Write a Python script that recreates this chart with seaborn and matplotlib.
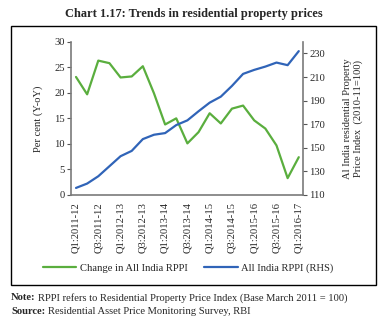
import matplotlib
matplotlib.use("Agg")
import matplotlib.pyplot as plt
import seaborn as sns
import pandas as pd
import numpy as np
from matplotlib.patches import Rectangle
from matplotlib.lines import Line2D

quarters = ["Q1:2011-12", "Q2:2011-12", "Q3:2011-12", "Q4:2011-12",
            "Q1:2012-13", "Q2:2012-13", "Q3:2012-13", "Q4:2012-13",
            "Q1:2013-14", "Q2:2013-14", "Q3:2013-14", "Q4:2013-14",
            "Q1:2014-15", "Q2:2014-15", "Q3:2014-15", "Q4:2014-15",
            "Q1:2015-16", "Q2:2015-16", "Q3:2015-16", "Q4:2015-16",
            "Q1:2016-17"]
change_rppi = [23.1, 19.7, 26.3, 25.8, 23.0, 23.2, 25.2, 19.9, 13.8, 15.0,
               10.1, 12.3, 16.0, 14.0, 16.9, 17.5, 14.6, 13.0, 9.7, 3.3, 7.4]
rppi_index = [116.0, 119.7, 125.9, 134.4, 142.9, 147.4, 157.4, 161.1, 162.5, 169.3,
              173.3, 181.0, 188.3, 193.4, 202.5, 212.7, 216.1, 218.9, 222.3, 220.1, 232.0]

green = "#5aae3e"
blue = "#3064b8"
serif = ["Liberation Serif", "DejaVu Serif"]

sns.set_style("white")
plt.rcParams["font.family"] = serif

df = pd.DataFrame({"q": np.arange(len(quarters)), "chg": change_rppi, "idx": rppi_index})

fig = plt.figure(figsize=(3.88, 3.32), dpi=100)
ax = fig.add_axes([71/388, 1-195/332, (303-71)/388, (195-41.7)/332])
ax2 = ax.twinx()

sns.lineplot(data=df, x="q", y="chg", ax=ax, color=green, lw=1.6)
sns.lineplot(data=df, x="q", y="idx", ax=ax2, color=blue, lw=1.6)

ax.set_xlim(-0.45, 20.38)
ax.set_ylim(0, 30)
ax.set_yticks(range(0, 31, 5))
ax2.set_ylim(110, 240)
ax2.set_yticks(range(110, 231, 20))
ax.set_xticks(range(len(quarters)))
ax.set_xticklabels([q if i % 2 == 0 else "" for i, q in enumerate(quarters)],
                   rotation=90, fontsize=7.6)
ax.set_xlabel("")
ax.set_ylabel("Per cent (Y-oY)", fontsize=7.6, labelpad=8)
ax2.set_ylabel("Al India residential Property\nPrice Index  (2010-11=100)",
               fontsize=7.6, labelpad=13)

for a in (ax, ax2):
    for s in a.spines.values():
        s.set_visible(False)
    a.grid(False)
    a.tick_params(axis="y", labelsize=7.6, length=3, width=0.8, color="#555555", pad=1.5)
    a.set_facecolor("none")
ax.spines["left"].set_visible(True)
ax.spines["bottom"].set_visible(True)
ax2.spines["right"].set_visible(True)
for s in (ax.spines["left"], ax.spines["bottom"], ax2.spines["right"]):
    s.set_color("#7a7a7a")
    s.set_linewidth(1.2)
ax.tick_params(axis="x", length=3, width=0.8, color="#555555", pad=2, direction="out")
ax.tick_params(axis="y", direction="out", left=True)
ax2.tick_params(axis="y", direction="out", right=True)

handles = [Line2D([], [], color=green, lw=1.6), Line2D([], [], color=blue, lw=1.6)]
fig.legend(handles, ["Change in All India RPPI", "All India RPPI (RHS)"],
           loc="center", bbox_to_anchor=(188/388, 1-268/332), ncol=2, frameon=False,
           fontsize=7.6, handlelength=3.2, handletextpad=0.3, columnspacing=1.6)

fig.patches.append(Rectangle((11/388, 1-285/332), (376-11)/388, (285-26)/332,
                             transform=fig.transFigure, fill=False,
                             edgecolor="black", lw=1.0))

fig.text(0.5, 1-14/332, "Chart 1.17: Trends in residential property prices",
         ha="center", va="center", fontsize=8.9, fontweight="bold")

fig.canvas.draw()
renderer = fig.canvas.get_renderer()
for y, head, body in [(298, "Note:", "RPPI refers to Residential Property Price Index (Base March 2011 = 100)"),
                      (312, "Source:", "Residential Asset Price Monitoring Survey, RBI")]:
    t = fig.text(11/388, 1-y/332, head, ha="left", va="center", fontsize=7.6, fontweight="bold")
    bb = t.get_window_extent(renderer=renderer)
    fig.text((bb.x1 + 2.5)/388, 1-y/332, body, ha="left", va="center", fontsize=7.6)

fig.savefig("out.png", dpi=100)
